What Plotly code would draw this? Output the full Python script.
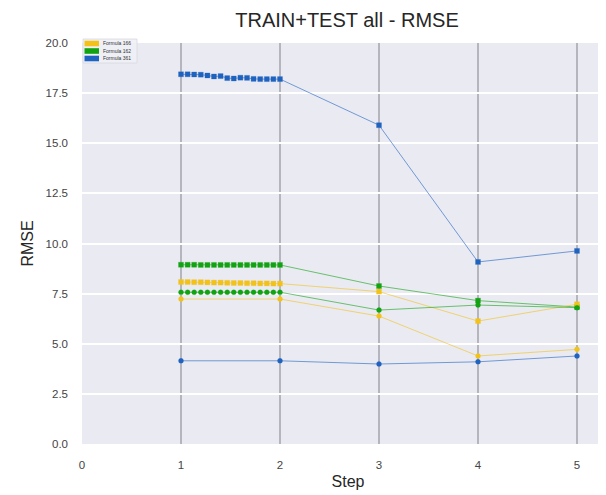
import plotly.graph_objects as go

# ---- data ----
steps_dense = [1.0, 1.067, 1.133, 1.2, 1.267, 1.333, 1.4, 1.467, 1.533, 1.6,
               1.667, 1.733, 1.8, 1.867, 1.933, 2.0, 3.0, 4.0, 5.0]
steps = [1, 2, 3, 4, 5]
x_ticks = [0, 1, 2, 3, 4, 5]
y_ticks = [0, 2.5, 5, 7.5, 10, 12.5, 15, 17.5, 20]

f361_upper = [18.44, 18.44, 18.43, 18.42, 18.38, 18.33, 18.35, 18.25, 18.23, 18.27,
              18.26, 18.21, 18.2, 18.2, 18.2, 18.2, 15.9, 9.08, 9.63]
f162_upper = [8.94, 8.94, 8.94, 8.93, 8.93, 8.93, 8.93, 8.93, 8.93, 8.93,
              8.93, 8.93, 8.93, 8.93, 8.93, 8.93, 7.88, 7.15, 6.83]
f166_upper = [8.08, 8.08, 8.07, 8.07, 8.06, 8.05, 8.05, 8.04, 8.03, 8.03,
              8.02, 8.02, 8.01, 8.01, 8.0, 8.0, 7.6, 6.13, 6.97]
f162_lower = [7.57, 7.57, 7.57, 7.57, 7.57, 7.57, 7.57, 7.57, 7.57, 7.57,
              7.57, 7.57, 7.57, 7.57, 7.57, 7.57, 6.68, 6.93, 6.8]
f166_lower = [7.23, 7.23, 6.38, 4.39, 4.72]
f361_lower = [4.15, 4.15, 3.99, 4.1, 4.39]

legend_names = ["Formula 166", "Formula 162", "Formula 361"]
YEL = "#f2c21b"
GRN = "#12a312"
BLU = "#1f63c0"
legend_colors = [YEL, GRN, BLU]

def rgba(hexc, a):
    h = hexc.lstrip("#")
    return f"rgba({int(h[0:2],16)},{int(h[2:4],16)},{int(h[4:6],16)},{a})"

fig = go.Figure()

def add(x, y, color, symbol):
    fig.add_trace(go.Scatter(
        x=x, y=y, mode="lines+markers", showlegend=False,
        line=dict(color=rgba(color, 0.6), width=1),
        marker=dict(color=color, symbol=symbol, size=5,
                    line=dict(color=rgba(color, 0.5), width=0.5)),
    ))

add(steps_dense, f361_upper, BLU, "square")
add(steps_dense, f162_upper, GRN, "square")
add(steps_dense, f166_upper, YEL, "square")
add(steps_dense, f162_lower, GRN, "circle")
add(steps, f166_lower, YEL, "circle")
add(steps, f361_lower, BLU, "circle")

# page body has an 8px default margin: work in screen pixels and offset
OFF = 8
W, H = 606, 495
S_LEFT, S_TOP, S_BOTTOM = 82, 43, 444     # plot area in screen pixels
ML = S_LEFT - OFF
MT = S_TOP - OFF
MB = H - (S_BOTTOM - OFF)
MR = 0
pw, ph = W - ML - MR, H - MT - MB
PX_PER_STEP = 99.0
x_max = pw / PX_PER_STEP

def px(xs):
    return (xs - S_LEFT) / pw

def py(ys):
    return (S_BOTTOM - ys) / ph

shapes = []
annotations = []
# legend box
shapes.append(dict(type="rect", xref="paper", yref="paper",
                   x0=px(83), x1=px(137), y0=py(63), y1=py(39),
                   fillcolor="rgba(240,240,246,0.9)",
                   line=dict(color="#d8d8e0", width=0.8), layer="above"))
rows = [43.5, 51.0, 58.5]
for name, col, ry in zip(legend_names, legend_colors, rows):
    shapes.append(dict(type="rect", xref="paper", yref="paper",
                       x0=px(84.5), x1=px(99), y0=py(ry + 2.8), y1=py(ry - 2.8),
                       fillcolor=col, line=dict(width=0), layer="above"))
    annotations.append(dict(text=name, xref="paper", yref="paper",
                            x=px(101), y=py(ry), xanchor="left", yanchor="middle",
                            showarrow=False,
                            font=dict(size=5, color="#333333", family="Liberation Sans")))

fig.update_layout(
    width=W, height=H,
    margin=dict(l=ML, r=MR, t=MT, b=MB, autoexpand=False),
    paper_bgcolor="white",
    plot_bgcolor="#eaeaf2",
    font=dict(family="Liberation Sans, Arial, sans-serif", color="#333333"),
    title=dict(text="TRAIN+TEST all - RMSE", x=(347 - OFF) / W, xanchor="center",
               y=1 - (20 - OFF) / H, yanchor="middle",
               font=dict(size=20, color="#262626")),
    xaxis=dict(range=[0, x_max], tickvals=x_ticks, showgrid=True, automargin=False,
               gridcolor="#b5b5bd", gridwidth=2, zeroline=False,
               showline=False, ticks="", ticklabelstandoff=12,
               tickfont=dict(size=11.5, color="#444444"),
               title=dict(text="Step", font=dict(size=16, color="#262626"), standoff=6)),
    yaxis=dict(range=[0, 20], tickvals=y_ticks, tickformat=".1f", showgrid=True,
               automargin=False, ticklabelstandoff=13,
               gridcolor="white", gridwidth=1.5, zeroline=False,
               showline=False, ticks="", tickfont=dict(size=11.5, color="#444444"),
               title=dict(text="RMSE", font=dict(size=16, color="#262626"), standoff=8)),
    shapes=shapes,
    annotations=annotations,
)

fig.write_html("out.html")
